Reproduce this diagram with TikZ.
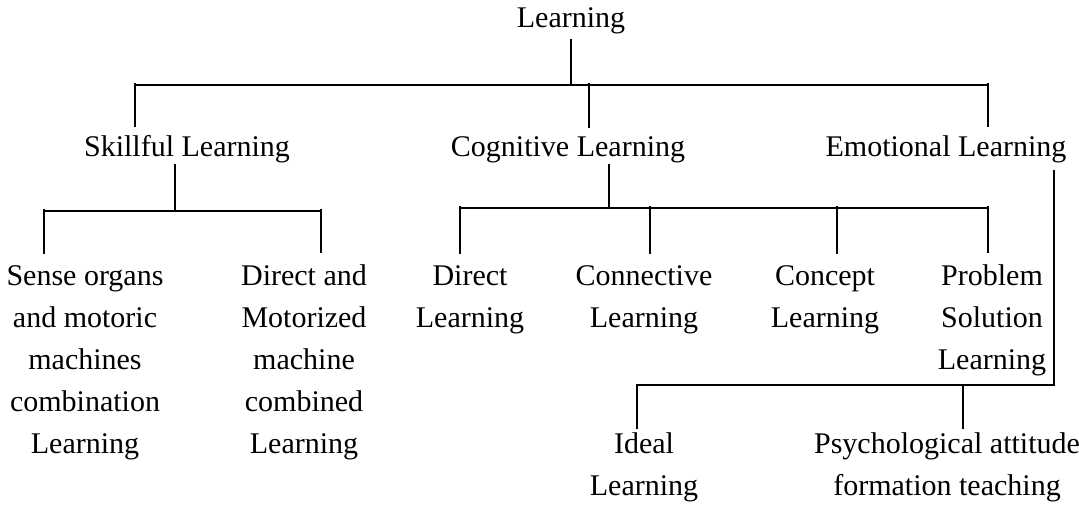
\documentclass[tikz,border=0pt]{standalone}
\usepackage{fontspec}
\setmainfont{Liberation Serif}
\begin{document}
\begin{tikzpicture}[x=1pt, y=-1pt, line width=1.1pt,
    lbl/.style={inner sep=0pt, anchor=base, align=center, font=\fontsize{30}{42}\selectfont}]
  \useasboundingbox (0,0) rectangle (1079,505);
  % first level (base = last line)
  \node[lbl] (learn) at (571,28) {Learning};
  \node[lbl] (skill) at (187,157) {Skillful Learning};
  \node[lbl] (cogn) at (568,157) {Cognitive Learning};
  \node[lbl] (emot) at (946,157) {Emotional Learning};
  \coordinate (top) at (571,85);
  \coordinate (tl) at (135,85);
  \coordinate (tr) at (988,85);
  \draw[shorten <=4pt] (learn.south -| top) -- (top);
  \draw (tl) -- (tr);
  \foreach \c/\n in {135/skill, 589/cogn, 988/emot}
    \draw[shorten <=-2pt, shorten >=8.5pt] (\c,85) -- (\c,85 |- \n.north);
  % skillful
  \coordinate (sk) at (175,211);
  \draw (sk |- skill.south) -- (sk);
  \draw (44,211) -- (321,211);
  \node[lbl] (sense) at (85,453) {Sense organs\\and motoric\\machines\\combination\\Learning};
  \node[lbl] (dirmot) at (304,453) {Direct and\\Motorized\\machine\\combined\\Learning};
  \foreach \c/\n in {44/sense, 321/dirmot}
    \draw[shorten <=-2pt, shorten >=11pt] (\c,211) -- (\c,211 |- \n.north);
  % cognitive
  \coordinate (cg) at (609,208);
  \draw (cg |- cogn.south) -- (cg);
  \draw (460,208) -- (988,208);
  \foreach \n/\x/\y/\c/\t in {dirl/470/327/460/{Direct\\Learning}, conn/644/327/650/{Connective\\Learning},
      conc/825/327/837/{Concept\\Learning}, prob/992/369/988/{Problem\\Solution\\Learning}}{
    \node[lbl] (\n) at (\x,\y) {\t};
    \draw[shorten <=-2pt, shorten >=11pt] (\c,208) -- (\c,208 |- \n.north);
  }
  % emotional
  \node[lbl] (ideal) at (644,495) {Ideal\\Learning};
  \node[lbl] (psych) at (947,495) {Psychological attitude\\formation teaching};
  \coordinate (em) at (1054,385);
  \coordinate (ei) at (637,385);
  \coordinate (ep) at (963,385);
  \draw[shorten <=5.5pt, shorten >=2.5pt] (em |- emot.south) -- (em) -- (ei) -- (ei |- ideal.north);
  \draw[shorten >=2.5pt] (ep) -- (ep |- psych.north);
\end{tikzpicture}
\end{document}
